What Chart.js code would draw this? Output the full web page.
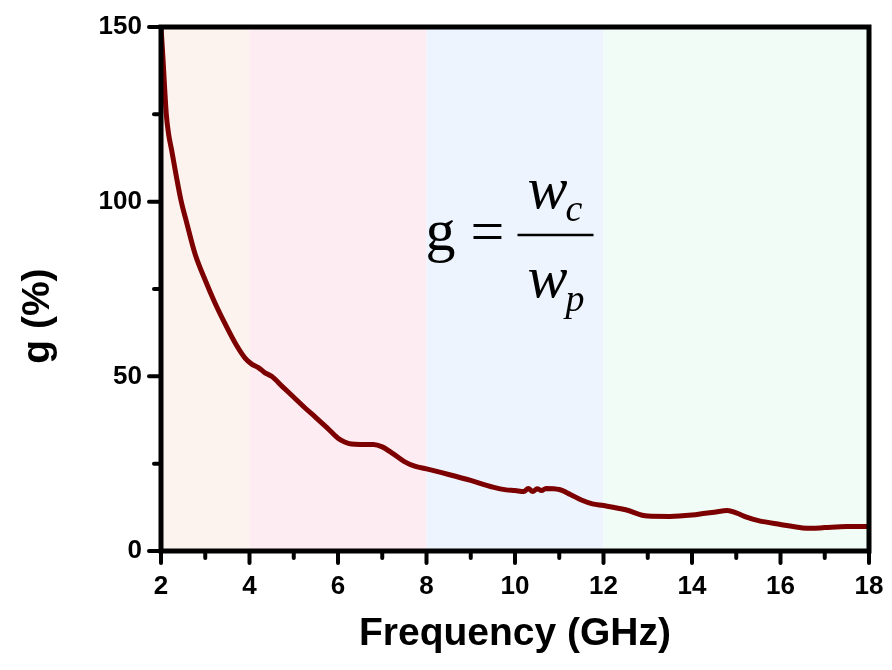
<!DOCTYPE html>
<html>
<head>
<meta charset="utf-8">
<script src="https://cdn.jsdelivr.net/npm/chart.js@4"></script>
<style>
  html, body { margin: 0; padding: 0; background: #ffffff; }
  #wrap { width: 892px; height: 670px; position: relative; }
</style>
</head>
<body>
<div id="wrap"><canvas id="c" width="892" height="670"></canvas></div>
<script>
// ---- data ----
const frequencies = [2.0, 2.04, 2.08, 2.12, 2.17, 2.24, 2.35, 2.45, 2.58, 2.77, 3.0, 3.22, 3.45, 3.71, 3.9, 4.05, 4.2, 4.35, 4.5, 4.75, 5.0, 5.25, 5.5, 5.75, 6.0, 6.15, 6.3, 6.5, 6.8, 7.0, 7.25, 7.5, 7.75, 8.0, 8.5, 9.0, 9.5, 9.8, 10.0, 10.2, 10.3, 10.4, 10.5, 10.6, 10.7, 11.0, 11.25, 11.5, 11.75, 12.0, 12.5, 13.0, 13.5, 14.0, 14.3, 14.5, 14.8, 15.0, 15.25, 15.5, 16.0, 16.5, 16.7, 17.0, 17.5, 18.0];
const gValues = [150, 142, 133, 125, 119.5, 114.8, 107, 100.5, 94, 85, 77.5, 71, 65, 58.8, 55.2, 53.5, 52.5, 51, 50, 47, 44, 41, 38.2, 35.3, 32.3, 31.2, 30.6, 30.5, 30.5, 29.8, 27.8, 25.6, 24.2, 23.5, 21.9, 20.2, 18.3, 17.5, 17.3, 17.0, 17.9, 17.0, 17.8, 17.3, 17.9, 17.6, 16.2, 14.6, 13.5, 13.0, 11.8, 10.0, 9.9, 10.3, 10.8, 11.1, 11.6, 10.9, 9.6, 8.7, 7.6, 6.6, 6.5, 6.7, 7.0, 7.0];
const bandEdges = [2, 4, 8, 12, 18];          // GHz band boundaries
const bandColors = ['#fdf3ee', '#fdedf2', '#edf4fd', '#f1fcf6'];
const xTickLabels = ['2', '4', '6', '8', '10', '12', '14', '16', '18'];
const yTickLabels = ['0', '50', '100', '150'];

const points = frequencies.map((f, i) => ({ x: f, y: gValues[i] }));

const bandsPlugin = {
  id: 'bands',
  beforeDatasetsDraw(chart) {
    const { ctx, chartArea, scales } = chart;
    ctx.save();
    for (let i = 0; i < bandColors.length; i++) {
      const x0 = scales.x.getPixelForValue(bandEdges[i]);
      const x1 = scales.x.getPixelForValue(bandEdges[i + 1]);
      ctx.fillStyle = bandColors[i];
      ctx.fillRect(x0, chartArea.top, x1 - x0, chartArea.bottom - chartArea.top);
    }
    ctx.restore();
  }
};

const framePlugin = {
  id: 'frame',
  afterDatasetsDraw(chart) {
    const { ctx, chartArea, scales } = chart;
    ctx.save();
    ctx.strokeStyle = '#000';
    ctx.lineCap = 'round';
    // ticks
    ctx.lineWidth = 4;
    for (let v = 2; v <= 18; v += 1) {
      const px = scales.x.getPixelForValue(v);
      const len = (v % 2 === 0) ? 12 : 7;
      ctx.beginPath();
      ctx.moveTo(px, chartArea.bottom);
      ctx.lineTo(px, chartArea.bottom + len);
      ctx.stroke();
    }
    for (let v = 0; v <= 150; v += 25) {
      const py = scales.y.getPixelForValue(v);
      const len = (v % 50 === 0) ? 12 : 7;
      ctx.beginPath();
      ctx.moveTo(chartArea.left, py);
      ctx.lineTo(chartArea.left - len, py);
      ctx.stroke();
    }
    // frame
    ctx.lineCap = 'butt';
    ctx.lineWidth = 5;
    ctx.strokeRect(chartArea.left, chartArea.top, chartArea.right - chartArea.left, chartArea.bottom - chartArea.top);
    // formula  g = w_c / w_p
    const ax = scales.x.getPixelForValue(8);
    const ay = scales.y.getPixelForValue(89);
    ctx.fillStyle = '#000';
    ctx.textBaseline = 'alphabetic';
    ctx.textAlign = 'left';
    ctx.font = '60px "Liberation Serif", "Times New Roman", serif';
    ctx.fillText('g', ax - 1, ay + 10);
    ctx.fillText('=', ax + 44, ay + 11);
    ctx.font = 'italic 60px "Liberation Serif", "Times New Roman", serif';
    ctx.fillText('w', ax + 101, ay - 32);
    ctx.fillText('w', ax + 101, ay + 57);
    ctx.font = 'italic 38px "Liberation Serif", "Times New Roman", serif';
    ctx.fillText('c', ax + 139, ay - 19);
    ctx.fillText('p', ax + 139, ay + 71);
    ctx.lineWidth = 2.5;
    ctx.beginPath();
    ctx.moveTo(ax + 91, ay - 5);
    ctx.lineTo(ax + 167, ay - 5);
    ctx.stroke();
    ctx.restore();
  }
};

function zeroPadding(scale) {
  scale.paddingLeft = 0; scale.paddingRight = 0;
  scale.paddingTop = 0; scale.paddingBottom = 0;
}

const chart = new Chart(document.getElementById('c'), {
  type: 'line',
  data: {
    datasets: [{
      data: points,
      borderColor: '#7d0000',
      borderWidth: 5,
      pointRadius: 0,
      cubicInterpolationMode: 'monotone',
      fill: false
    }]
  },
  options: {
    responsive: false,
    animation: false,
    devicePixelRatio: 1,
    layout: { padding: { top: 27, right: 23, left: 0, bottom: 0 } },
    plugins: { legend: { display: false }, tooltip: { enabled: false } },
    scales: {
      x: {
        type: 'linear',
        min: 2, max: 18,
        afterFit(scale) { scale.height = 119; zeroPadding(scale); },
        grid: { display: false, drawTicks: false },
        border: { display: false },
        ticks: {
          stepSize: 2,
          padding: 20,
          color: '#000',
          font: { family: '"Liberation Sans", Arial, sans-serif', size: 26, weight: 'bold' },
          maxRotation: 0,
          callback: (v) => xTickLabels.includes(String(v)) ? String(v) : ''
        },
        title: {
          display: true,
          text: 'Frequency (GHz)',
          color: '#000',
          font: { family: '"Liberation Sans", Arial, sans-serif', size: 39, weight: 'bold' },
          padding: { top: 0, bottom: 12 }
        }
      },
      y: {
        min: 0, max: 150,
        afterFit(scale) { scale.width = 161; zeroPadding(scale); },
        grid: { display: false, drawTicks: false },
        border: { display: false },
        ticks: {
          stepSize: 50,
          padding: 19,
          color: '#000',
          font: { family: '"Liberation Sans", Arial, sans-serif', size: 26, weight: 'bold' },
          callback: (v) => yTickLabels.includes(String(v)) ? String(v) : ''
        },
        title: {
          display: true,
          text: 'g (%)\u00a0\u00a0\u00a0\u00a0\u00a0',
          color: '#000',
          font: { family: '"Liberation Sans", Arial, sans-serif', size: 39, weight: 'bold' },
          padding: { top: 15, bottom: 0 }
        }
      }
    }
  },
  plugins: [bandsPlugin, framePlugin]
});
</script>
</body>
</html>
